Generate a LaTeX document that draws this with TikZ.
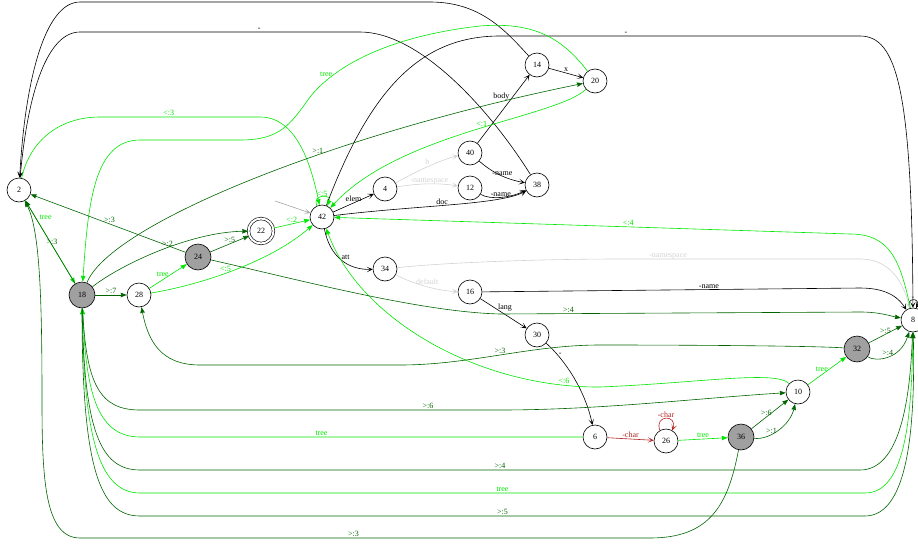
\documentclass[tikz,border=0pt]{standalone}
\usepackage{fontspec}
\setmainfont{Liberation Serif}
\usetikzlibrary{automata}
\usetikzlibrary{arrows.meta}
\definecolor{treegreen}{RGB}{0,230,0}
\definecolor{gvdarkgreen}{RGB}{0,100,0}
\definecolor{gvlightgray}{RGB}{211,211,211}
\definecolor{gvred}{RGB}{178,34,34}
\definecolor{gvgray}{RGB}{160,160,160}
\tikzset{
>={Stealth[length=6pt,width=4.5pt,inset=0.5pt]}, % filled tips for the green edges
my node/.style={circle,draw,fill=white,minimum size=24pt,inner sep=0pt,font=\fontsize{8}{9}\selectfont},
my state/.style={my node},
my filled/.style={fill=gvgray,minimum size=26pt},
my accepting/.style={double,double distance=2pt,minimum size=25pt},
vee tip/.style={-{Stealth[length=6pt,width=5.5pt,inset=3.5pt]}},
lbl/.style={font=\fontsize{8}{9}\selectfont,inner sep=1pt},
tr/.style={->,treegreen},
dg/.style={->,gvdarkgreen},
lg/.style={vee tip,gvlightgray},
rd/.style={vee tip,gvred},
bk/.style={vee tip,black},
init/.style={vee tip,black!35},
automaton/.style={
  x=1pt,y=-1pt, % pixel grid, y downwards
  semithick,
  every state/.style={my state},
  accepting/.style={my accepting},
  filled state/.style={my filled}
}
}

\begin{document}
\begin{tikzpicture}[automaton]
\useasboundingbox (0,0) rectangle (918,546);

\node[state]              (2)  at (19,190)  {2};
\node[state,filled state] (18) at (82,295)  {18};
\node[state]              (28) at (139,295) {28};
\node[state,filled state] (24) at (198,257) {24};
\node[state,accepting]    (22) at (261,231) {22};
\node[state]              (42) at (322,217) {42};
\node[state]              (4)  at (385,189) {4};
\node[state]              (40) at (470,153) {40};
\node[state]              (12) at (470,188) {12};
\node[state]              (38) at (537,185) {38};
\node[state]              (14) at (537,65)  {14};
\node[state]              (20) at (595,81)  {20};
\node[state]              (34) at (385,269) {34};
\node[state]              (16) at (470,292) {16};
\node[state]              (30) at (537,335) {30};
\node[state]              (6)  at (595,437) {6};
\node[state]              (26) at (666,441) {26};
\node[state,filled state] (36) at (741,437) {36};
\node[state]              (10) at (798,392) {10};
\node[state,filled state] (32) at (857,349) {32};
\node[state]              (8)  at (913,320) {8};
\coordinate (start) at (275,201);

\draw[init] (start) -- (42);

% black
\path[bk] (42) edge node[lbl,above] {elem} (4)
          (40) edge node[lbl,above left=-1pt,pos=.62] {body} (14)
          (14) edge node[lbl,above] {x} (20)
          (16) edge node[lbl,above right=-2pt,pos=.4] {lang} (30);
\draw[bk] (42) .. controls (420,205) and (500,205) .. node[lbl,above,pos=.45] {doc} (38);
\draw[bk] (42) .. controls (330,257) and (348,270) .. node[lbl,above right=-1pt] {att} (34);
\draw[bk] (40) .. controls (495,175) and (510,180) .. node[lbl,above=-1pt] {-name} (38);
\draw[bk] (12) .. controls (490,200) and (510,198) .. node[lbl,above=-1pt] {-name} (38);
\draw[bk] (30) .. controls (565,360) and (585,390) .. node[lbl,right,pos=.2] {-} (6);
\draw[bk] (16) -- node[lbl,above,pos=.6] {-name} (860,288) .. controls (890,288) and (900,300) .. (8);
\draw[bk] (14) .. controls (505,30) and (480,2) .. (430,2) -- (80,2) .. controls (45,2) and (25,80) .. (2);
\draw[bk] (38) .. controls (490,110) and (420,32) .. (360,32) -- node[lbl,above,pos=.36] {-} (80,32) .. controls (48,32) and (28,90) .. (2);
\draw[bk] (42) .. controls (370,90) and (420,36) .. (500,36) -- node[lbl,above,pos=.35] {-} (860,36) .. controls (897,36) and (912,90) .. (8);
\draw[bk] (8.105) .. controls +(-5,-11) and +(5,-11) .. node[lbl,above=-1pt] {-} (8.75);

% light gray
\draw[lg] (4) .. controls (415,172) and (440,160) .. node[lbl,above=1pt] {h} (40);
\draw[lg] (4) .. controls (420,183) and (440,183) .. node[lbl,above=-2pt] {-namespace} (12);
\draw[lg] (34) .. controls (415,285) and (440,291) .. node[lbl,above=1pt] {default} (16);
\draw[lg] (34) .. controls (450,262) and (550,259) .. (620,259) -- node[lbl,above=-1pt,pos=.2] {-namespace} (860,259) .. controls (895,259) and (905,290) .. (8);

% red
\draw[rd] (6) -- node[lbl,above] {-char} (26);
\draw[rd] (26.120) .. controls +(-6,-16) and +(6,-16) .. node[lbl,above=-1pt] {-char} (26.60);

% tree edges
\path[tr] (2)  edge node[lbl,right=3pt,pos=.2] {tree} (18)
          (22) edge node[lbl,above] {<:2} (42)
          (28) edge node[lbl,above left=-2pt] {tree} (24)
          (10) edge node[lbl,above left=-2pt] {tree} (32)
          (26) edge node[lbl,above] {tree} (36);
\draw[tr] (2) .. controls (30,140) and (60,117) .. (100,117) -- node[lbl,above,pos=.43] {<:3} (260,117) .. controls (295,117) and (310,160) .. (42);
\draw[tr] (20) .. controls (560,35) and (530,22) .. (480,26) .. controls (400,35) and (340,60) .. node[lbl,above left=-2pt,pos=.8] {tree} (310,97) .. controls (290,125) and (280,140) .. (240,140) -- (140,140) .. controls (95,140) and (88,200) .. (18);
\draw[tr] (20) .. controls (555,118) and (400,132) .. node[lbl,above,pos=.47] {<:1} (42);
\draw[tr] (42.115) .. controls +(-5,-12) and +(5,-12) .. node[lbl,above=-1pt] {<:5} (42.65);
\draw[tr] (28) .. controls (200,285) and (270,262) .. node[lbl,above,pos=.45] {<:5} (42);
\draw[tr] (8) .. controls (900,260) and (890,234) .. (850,234) -- node[lbl,above,pos=.43] {<:4} (42);
\draw[tr] (10) .. controls (775,370) and (700,383) .. (600,387) .. controls (480,388) and (360,320) .. node[lbl,above,pos=.1] {<:6} (42);
\draw[tr] (6) -- node[lbl,above,pos=.59] {tree} (140,437) .. controls (96,437) and (86,390) .. (18);
\draw[tr] (8) .. controls (912,420) and (905,493) .. (865,493) -- node[lbl,above] {tree} (140,493) .. controls (100,493) and (84,440) .. (18);

% dark green
\path[dg] (18) edge node[lbl,right=-5pt,pos=.5] {>:3} (2)
          (24) edge node[lbl,above,pos=.49] {>:3} (2)
          (24) edge node[lbl,above] {>:5} (22)
          (18) edge node[lbl,above] {>:7} (28)
          (32) edge node[lbl,above=-1pt] {>:5} (8)
          (36) edge node[lbl,above left=-3pt] {>:6} (10);
\draw[dg] (18) .. controls (110,225) and (330,135) .. node[lbl,above,pos=.62] {>:1} (20);
\draw[dg] (18) .. controls (120,265) and (190,232) .. node[lbl,above,pos=.55] {>:2} (22);
\draw[dg] (24) .. controls (300,280) and (420,312) .. (500,314) -- node[lbl,above,pos=.19] {>:4} (860,312) .. controls (880,312) and (890,316) .. (8);
\draw[dg] (32) .. controls (820,346) and (700,345) .. (600,345) .. controls (530,345) and (470,365) .. node[lbl,above] {>:3} (400,365) -- (200,365) .. controls (160,365) and (148,340) .. (28);
\draw[dg] (18) .. controls (86,385) and (100,410) .. (140,410) -- node[lbl,above,pos=.8] {>:6} (500,410) .. controls (600,410) and (700,398) .. (10);
\draw[dg] (18) .. controls (84,430) and (100,470) .. (140,470) -- node[lbl,above] {>:4} (860,470) .. controls (900,470) and (910,400) .. (8);
\draw[dg] (18) .. controls (82,470) and (100,516) .. (140,516) -- node[lbl,above] {>:5} (865,516) .. controls (910,516) and (915,420) .. (8);
\draw[dg] (36) .. controls (728,505) and (710,538) .. (650,538) -- node[lbl,above,pos=.52] {>:3} (80,538) .. controls (45,538) and (42,480) .. (42,400) .. controls (42,300) and (40,230) .. (2);
\draw[dg] (32) .. controls (875,362) and (900,360) .. node[lbl,above] {>:4} (8);
\draw[dg] (36) .. controls (770,440) and (790,425) .. node[lbl,above,pos=.35] {>:1} (10);
\end{tikzpicture}
\end{document}
